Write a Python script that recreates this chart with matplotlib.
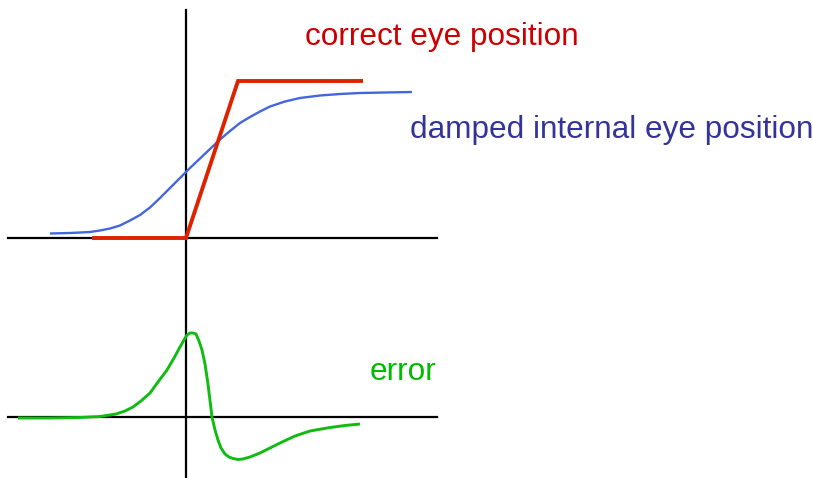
import matplotlib.pyplot as plt

# positions (pixel grid, y grows downwards)
axis_x = 186
upper_axis_y = 238
lower_axis_y = 417

correct_x = [92, 186, 238, 363]
correct_y = [238, 238, 81, 81]

damped_x = [50, 70, 90, 100, 110, 120, 130, 140, 150, 160, 170, 180, 190, 200,
            210, 220, 230, 240, 250, 260, 270, 285, 300, 320, 340, 360, 385, 412]
damped_y = [233.5, 233, 232, 230.5, 228.5, 225.5, 220.5, 215, 207.5, 198, 188,
            178, 168, 158.5, 149, 139.5, 131, 123, 117, 111.5, 106.5, 101.5, 98,
            95.5, 94, 93, 92.5, 92]

error_x = [18, 50, 80, 100, 116, 125, 133, 141, 150, 158, 167, 174, 180, 184, 187,
           190, 193, 196, 199, 202, 205, 208, 212, 215, 218, 221, 225, 229, 233,
           238, 243, 250, 260, 270, 280, 295, 310, 330, 345, 360]
error_y = [418, 418, 417.5, 416.5, 414, 411, 407, 401, 393, 382, 370, 358, 347,
           340, 335, 333, 333, 334, 341, 350, 364, 384, 417, 430, 440, 448, 454,
           457, 458.5, 459.5, 459, 457, 453, 448, 443, 436, 431, 427.5, 425.5, 424]

labels = ["correct eye position", "damped internal eye position", "error"]

fig = plt.figure(figsize=(8.13, 4.78), dpi=100)
ax = fig.add_axes([0, 0, 1, 1])
ax.set_xlim(0, 813)
ax.set_ylim(478, 0)
ax.axis("off")

# axes of the sketch
ax.plot([axis_x, axis_x], [10, 478], color="black", lw=1.6)
ax.plot([8, 437], [upper_axis_y, upper_axis_y], color="black", lw=1.6)
ax.plot([8, 437], [lower_axis_y, lower_axis_y], color="black", lw=1.6)

ax.plot(damped_x, damped_y, color="#4466dd", lw=1.7, solid_capstyle="butt",
        solid_joinstyle="round")
ax.plot(correct_x, correct_y, color="#dd2200", lw=2.8, solid_joinstyle="miter",
        solid_capstyle="butt")
ax.plot(error_x, error_y, color="#11bb11", lw=2.1, solid_capstyle="butt",
        solid_joinstyle="round")

ax.text(305, 37, labels[0], color="#cc0000", fontsize=22.7,
        family="Liberation Sans", va="center", ha="left")
ax.text(410, 130, labels[1], color="#333399", fontsize=22.7,
        family="Liberation Sans", va="center", ha="left")
ax.text(370, 372, labels[2], color="#00bb00", fontsize=22.7,
        family="Liberation Sans", va="center", ha="left")

plt.savefig("out.png", dpi=100)
